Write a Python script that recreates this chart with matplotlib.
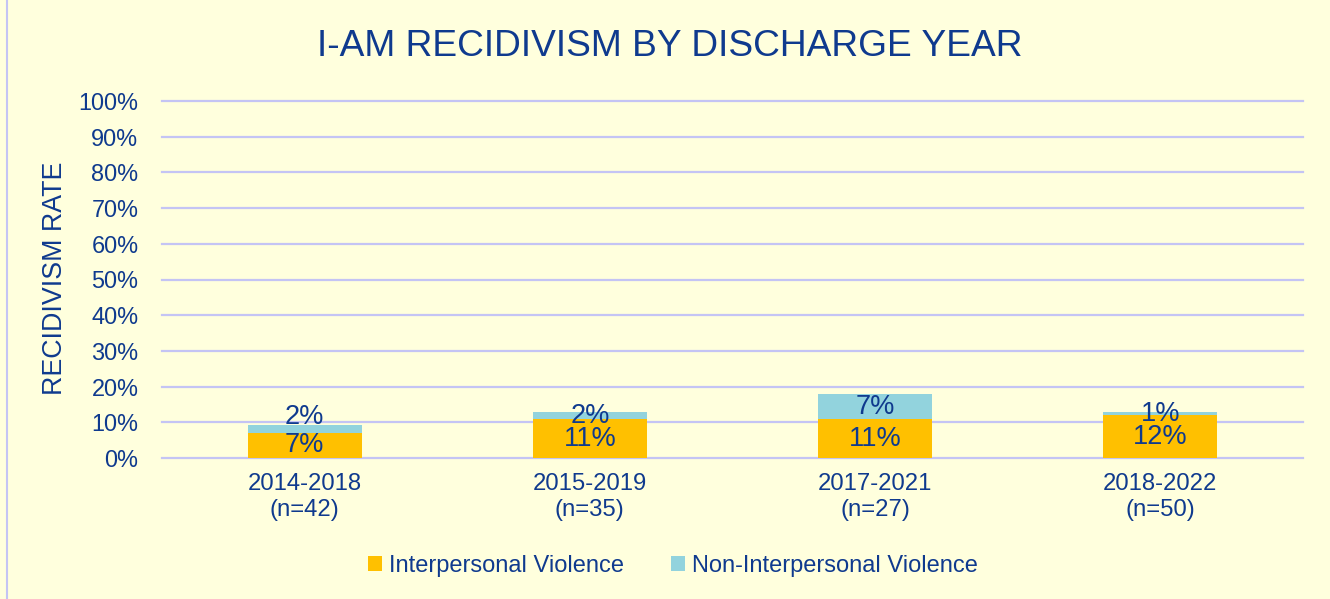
import matplotlib.pyplot as plt
from matplotlib.lines import Line2D
import numpy as np

# data
periods = ["2014-2018", "2015-2019", "2017-2021", "2018-2022"]
counts = [42, 35, 27, 50]
interpersonal = [7.1, 10.9, 10.9, 12.0]
non_interpersonal = [2.1, 2.0, 7.0, 0.9]

BG = "#FFFFDD"
TXT = "#0F3A8E"
GRID = "#C4C4F4"
ORANGE = "#FFC000"
BLUE = "#92D3DD"

plt.rcParams['font.family'] = ['Liberation Sans', 'DejaVu Sans']

fig = plt.figure(figsize=(13.3, 5.99), dpi=100, facecolor=BG)
ax = fig.add_axes([162 / 1330, 1 - 458 / 599, 1141 / 1330, 357 / 599])
ax.set_facecolor(BG)

x = np.arange(len(periods))
w = 0.4
b1 = ax.bar(x, interpersonal, w, color=ORANGE, label="Interpersonal Violence", zorder=3)
b2 = ax.bar(x, non_interpersonal, w, bottom=interpersonal, color=BLUE,
            label="Non-Interpersonal Violence", zorder=3)

# segment labels (first top label sits a bit higher in the original)
nudge = [3.3, 0, 0, 0]
for i in range(len(x)):
    ax.text(x[i], interpersonal[i] / 2, f"{round(interpersonal[i])}%",
            ha='center', va='center', fontsize=19.5, color=TXT, zorder=4)
    ax.text(x[i], interpersonal[i] + non_interpersonal[i] / 2 + nudge[i],
            f"{round(non_interpersonal[i])}%",
            ha='center', va='center', fontsize=19.5, color=TXT, zorder=4)

ax.set_xlim(-0.5, len(x) - 0.5)
ax.set_ylim(0, 100)
ax.set_yticks(np.arange(0, 101, 10))
ax.set_yticklabels([f"{v}%" for v in range(0, 101, 10)])
ax.set_xticks(x)
ax.set_xticklabels([f"{p}\n(n={n})" for p, n in zip(periods, counts)])
ax.tick_params(axis='y', length=0, pad=17, labelsize=16.9, labelcolor=TXT)
ax.tick_params(axis='x', length=0, pad=11, labelsize=17.2, labelcolor=TXT)
ax.grid(axis='y', color=GRID, linewidth=1.6, zorder=0)
for gl in ax.get_ygridlines():
    gl.set_clip_on(False)
for s in ax.spines.values():
    s.set_visible(False)

fig.text(670 / 1330, 1 - 47 / 599, "I-AM RECIDIVISM BY DISCHARGE YEAR",
         ha='center', va='center', fontsize=26.7, color=TXT)
fig.text(55 / 1330, 1 - 278 / 599, "RECIDIVISM RATE", rotation=90,
         ha='center', va='center', fontsize=19.3, color=TXT)

leg = fig.legend(handles=[b1, b2], loc='center', bbox_to_anchor=(673 / 1330, 1 - 566 / 599),
                 ncol=2, frameon=False, fontsize=17, handlelength=0.6, handleheight=0.6,
                 handletextpad=0.3, columnspacing=2.0)
for t in leg.get_texts():
    t.set_color(TXT)

# left border of the chart area
fig.add_artist(Line2D([7 / 1330, 7 / 1330], [0, 1], color=GRID, linewidth=1.5,
                      transform=fig.transFigure))

fig.savefig("out.png", dpi=100, facecolor=BG)
